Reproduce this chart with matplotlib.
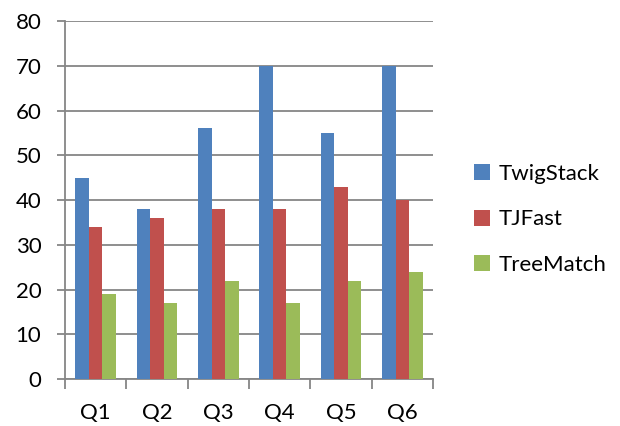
import numpy as np
import matplotlib.pyplot as plt

queries = ["Q1", "Q2", "Q3", "Q4", "Q5", "Q6"]
twigstack = [45, 38, 56, 70, 55, 70]
tjfast = [34, 36, 38, 38, 43, 40]
treematch = [19, 17, 22, 17, 22, 24]

series = [("TwigStack", twigstack, "#4F81BD"),
          ("TJFast", tjfast, "#C0504D"),
          ("TreeMatch", treematch, "#9BBB59")]

plt.rcParams['font.family'] = ['Lato', 'DejaVu Sans']
grid_col = "#868686"

fig = plt.figure(figsize=(6.2, 4.26), dpi=100)
ax = fig.add_axes([0.1048, 0.110, 0.5936, 0.8407])

x = np.arange(len(queries))
w = 0.22
for i, (name, vals, col) in enumerate(series):
    ax.bar(x + (i - 1) * w, vals, width=w, color=col, label=name, zorder=3)

ax.set_xlim(-0.5, len(queries) - 0.5)
ax.set_ylim(0, 80)
ax.set_yticks(range(0, 81, 10))
ax.yaxis.grid(True, color=grid_col, linewidth=1.3, zorder=0)
ax.set_axisbelow(True)

ax.set_xticks(x)
ax.set_xticklabels(queries)
ax.set_xticks(np.arange(-0.5, len(queries), 1), minor=True)
ax.tick_params(axis='x', which='major', length=0, pad=17, labelsize=16)
ax.tick_params(axis='x', which='minor', length=7, width=1.3, color=grid_col)
ax.tick_params(axis='y', length=6, width=1.3, color=grid_col, pad=11, labelsize=16)

for s in ['top', 'right']:
    ax.spines[s].set_visible(False)
for s in ['left', 'bottom']:
    ax.spines[s].set_color(grid_col)
    ax.spines[s].set_linewidth(1.3)

fig.legend(loc='center left', bbox_to_anchor=(0.733, 0.485), frameon=False,
           fontsize=16, handlelength=0.72, handleheight=0.72,
           handletextpad=0.35, labelspacing=1.15)

fig.savefig("out.png", dpi=100)
